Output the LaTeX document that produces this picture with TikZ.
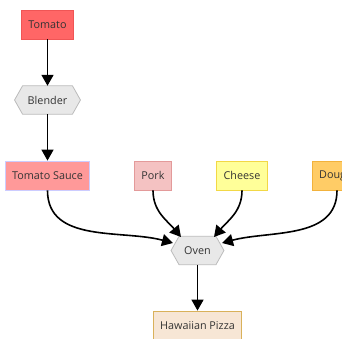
\documentclass[tikz,border=0pt]{standalone}
\usepackage{fontspec}
\setmainfont{Open Sans}
\usetikzlibrary{arrows.meta}
\definecolor{txt}{HTML}{333333}
\definecolor{tomF}{HTML}{FF6666}\definecolor{tomD}{HTML}{F05555}
\definecolor{sauF}{HTML}{FF9999}\definecolor{sauD}{HTML}{CCCCFF}
\definecolor{porF}{HTML}{F4C2C2}\definecolor{porD}{HTML}{E39A9A}
\definecolor{cheF}{HTML}{FFFF99}\definecolor{cheD}{HTML}{F2D846}
\definecolor{douF}{HTML}{FFCC66}\definecolor{douD}{HTML}{F2B23C}
\definecolor{pizF}{HTML}{F7E6D5}\definecolor{pizD}{HTML}{D9B15A}
\definecolor{hexF}{HTML}{E8E8E8}\definecolor{hexD}{HTML}{BBBBBB}
\tikzset{
  box/.style={draw, line width=0.8pt, rectangle, minimum height=29pt, inner xsep=7pt, text=txt, font=\fontsize{10.8}{12}\selectfont},
  hexbox/.style={rectangle, minimum height=28pt, inner xsep=5pt, text=txt, font=\fontsize{10.8}{12}\selectfont},
  hexline/.style={draw=hexD, fill=hexF, line width=0.8pt},
  conn/.style={line width=1.6pt, -{Triangle[length=11pt,width=12pt]}},
}
\begin{document}
\begin{tikzpicture}[x=1pt,y=-1pt]
\useasboundingbox (0,0) rectangle (342,339);
\clip (0,0) rectangle (342,339);
\node[box, fill=tomF, draw=tomD] (tomato) at (47.5,24.5) {Tomato};
\node[hexbox] (blender) at (47.5,100) {Blender};
\path[hexline] ([xshift=-8pt]blender.west) -- (blender.north west) -- (blender.north east) -- ([xshift=8pt]blender.east) -- (blender.south east) -- (blender.south west) -- cycle;
\node[hexbox] at (47.5,100) {Blender};
\node[box, fill=sauF, draw=sauD] (sauce) at (47.5,175.5) {Tomato Sauce};
\node[box, fill=porF, draw=porD] (pork) at (153,175.5) {Pork};
\node[box, fill=cheF, draw=cheD] (cheese) at (242,175.5) {Cheese};
\node[box, fill=douF, draw=douD] (dough) at (336,175.5) {Dough};
\node[hexbox] (oven) at (197.5,250.5) {Oven};
\path[hexline] ([xshift=-8pt]oven.west) -- (oven.north west) -- (oven.north east) -- ([xshift=8pt]oven.east) -- (oven.south east) -- (oven.south west) -- cycle;
\node[hexbox] at (197.5,250.5) {Oven};
\node[box, fill=pizF, draw=pizD] (pizza) at (197.5,325.5) {Hawaiian Pizza};
\coordinate (ovenL) at (173,243);
\coordinate (ovenTL) at (181,237);
\coordinate (ovenTR) at (214,237);
\coordinate (ovenR) at (222,243);
\draw[conn] (tomato) -- (blender);
\draw[conn] (blender.south) -- (sauce.north);
\draw[conn] (sauce.south) to[out=-90,in=165] (ovenL);
\draw[conn] (pork.south) to[out=-90,in=130] (ovenTL);
\draw[conn] (cheese.south) to[out=-90,in=50] (ovenTR);
\draw[conn] ([xshift=1pt]dough.south) to[out=-90,in=15] (ovenR);
\draw[conn] (oven.south) -- (pizza.north);
\end{tikzpicture}
\end{document}
